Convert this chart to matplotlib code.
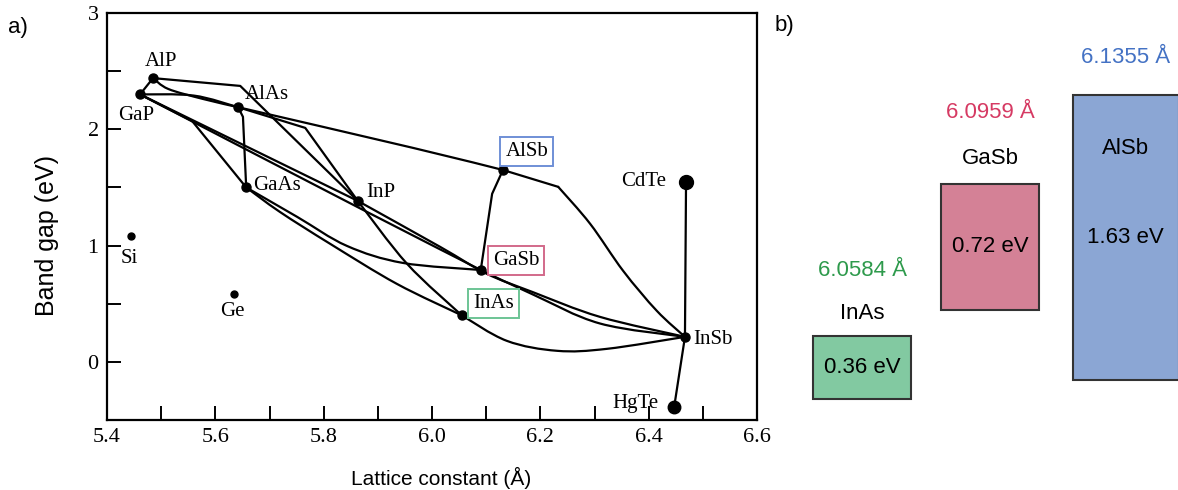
import numpy as np
import matplotlib.pyplot as plt
from matplotlib.patches import Rectangle, PathPatch
from matplotlib.path import Path

# ---- panel a: binary compounds, lattice constant (Å) vs band gap (eV)
names = ['AlP', 'GaP', 'AlAs', 'GaAs', 'InP', 'AlSb', 'GaSb', 'InAs',
         'InSb', 'CdTe', 'HgTe', 'Si', 'Ge']
lattice = [5.485, 5.461, 5.642, 5.657, 5.863, 6.131, 6.090, 6.055,
           6.467, 6.469, 6.447, 5.444, 5.635]
gap = [2.44, 2.30, 2.19, 1.50, 1.38, 1.65, 0.79, 0.40,
       0.215, 1.55, -0.39, 1.08, 0.58]

# ternary alloy lines, (a, Eg) points along each one
# straight pieces (kinks at the direct/indirect crossover)
alp_gap = [(5.485, 2.44), (5.461, 2.30)]
alp_inp = [(5.485, 2.44), (5.646, 2.373), (5.863, 1.384)]
alas_kink = [(5.642, 2.19), (5.766, 2.012), (5.863, 1.384)]
alsb_kink = [(6.131, 1.65), (6.233, 1.505)]
alas_gaas = [(5.642, 2.19), (5.651, 2.107), (5.657, 1.50)]
gap_gaas = [(5.461, 2.30), (5.557, 2.072), (5.657, 1.50)]
gap_inp = [(5.461, 2.30), (5.863, 1.384)]
alsb_gasb = [(6.131, 1.65), (6.111, 1.445), (6.090, 0.79)]
cdte_hgte = [(6.469, 1.55), (6.467, 0.215), (6.447, -0.39)]
# bowed pieces
alp_alas = [(5.485, 2.44), (5.513, 2.347), (5.577, 2.261), (5.642, 2.19)]
gap_alas = [(5.461, 2.30), (5.560, 2.29), (5.642, 2.19)]
inp_inas = [(5.863, 1.384), (5.954, 0.843), (6.055, 0.40)]
alas_alsb = [(5.642, 2.19), (5.965, 1.84), (6.131, 1.65)]
kink_insb = [(6.233, 1.505), (6.292, 1.187), (6.353, 0.782), (6.415, 0.439), (6.467, 0.215)]
gap_gasb = [(5.461, 2.30), (5.863, 1.33), (6.090, 0.79)]
inp_insb = [(5.863, 1.384), (6.015, 0.989), (6.100, 0.76), (6.186, 0.60),
            (6.310, 0.387), (6.467, 0.215)]
gasb_insb = [(6.090, 0.79), (6.186, 0.58), (6.310, 0.33), (6.467, 0.215)]
gaas_gasb = [(5.657, 1.50), (5.751, 1.247), (5.843, 0.997), (5.946, 0.851), (6.090, 0.79)]
gaas_inas = [(5.657, 1.50), (5.719, 1.29), (5.812, 1.015), (5.935, 0.671), (6.055, 0.40)]
inas_insb = [(6.055, 0.40), (6.138, 0.181), (6.231, 0.095), (6.323, 0.112), (6.467, 0.215)]

straight = [alp_gap, alp_inp, alas_kink, alsb_kink, alas_gaas, gap_gaas,
            gap_inp, alsb_gasb, cdte_hgte]
bowed = [alp_alas, gap_alas, inp_inas, alas_alsb, kink_insb, gap_gasb,
         inp_insb, gasb_insb, gaas_gasb, gaas_inas, inas_insb]

# ---- panel b: the 6.1 Å family
film_names = ['InAs', 'GaSb', 'AlSb']
film_a = [6.0584, 6.0959, 6.1355]
film_gap = [0.36, 0.72, 1.63]
film_vb = [0.0, 0.51, 0.11]

# label placement (a, Eg) for panel a
label_xy = {'AlP': (5.500, 2.58), 'GaP': (5.454, 2.115), 'AlAs': (5.695, 2.30),
            'GaAs': (5.714, 1.513), 'InP': (5.906, 1.46), 'AlSb': (6.175, 1.81),
            'GaSb': (6.155, 0.87), 'InAs': (6.113, 0.50), 'InSb': (6.519, 0.19),
            'CdTe': (6.391, 1.55), 'HgTe': (6.376, -0.36), 'Si': (5.442, 0.886),
            'Ge': (5.631, 0.43)}
box_col = {'AlSb': '#6f8fd6', 'GaSb': '#d2698a', 'InAs': '#6cc495'}
dot_size = {'CdTe': 10, 'HgTe': 9, 'Si': 5, 'Ge': 5}


def smooth_path(pts):
    # Catmull-Rom through the points, as cubic Bezier pieces
    p = np.array(pts, dtype=float)
    ext = np.vstack([p[0], p, p[-1]])
    verts = [p[0]]
    codes = [Path.MOVETO]
    for i in range(1, len(ext) - 2):
        c1 = ext[i] + (ext[i + 1] - ext[i - 1]) / 6
        c2 = ext[i + 1] - (ext[i + 2] - ext[i]) / 6
        verts += [c1, c2, ext[i + 1]]
        codes += [Path.CURVE4] * 3
    return Path(verts, codes)


fig = plt.figure(figsize=(11.78, 4.90), dpi=100)
ax = fig.add_axes([107/1178, 70/490, 650/1178, 407/490])

for c in straight:
    xs, ys = zip(*c)
    ax.plot(xs, ys, color='black', lw=1.6, solid_joinstyle='round',
            solid_capstyle='round')
for c in bowed:
    ax.add_patch(PathPatch(smooth_path(c), fill=False, ec='black', lw=1.6,
                           capstyle='round', joinstyle='round'))

for n, a, e in zip(names, lattice, gap):
    ax.plot(a, e, 'o', color='black', ms=dot_size.get(n, 6.5), zorder=3)
    lx, ly = label_xy[n]
    bbox = None
    if n in box_col:
        bbox = dict(boxstyle='square,pad=0.25', fc='white', ec=box_col[n], lw=1.4)
    ax.text(lx, ly, n, family='Liberation Serif', fontsize=15,
            ha='center', va='center', bbox=bbox, zorder=4)

ax.set_xlim(5.4, 6.6)
ax.set_ylim(-0.5, 3.0)
ax.set_xticks(np.round(np.arange(5.4, 6.61, 0.2), 1))
ax.set_xticks(np.round(np.arange(5.5, 6.6, 0.2), 1), minor=True)
ax.set_xticklabels(['%.1f' % v for v in np.arange(5.4, 6.61, 0.2)])
ax.set_yticks([0, 1, 2, 3])
ax.set_yticks([-0.5, 0.5, 1.5, 2.5], minor=True)
ax.set_yticklabels(['0', '1', '2', '3'])
ax.tick_params(which='both', direction='in', length=10, width=1.4,
               top=False, right=False, labelsize=16, pad=6)
for lab in ax.get_xticklabels() + ax.get_yticklabels():
    lab.set_family('Liberation Serif')
for sp in ax.spines.values():
    sp.set_linewidth(1.6)

fig.text(441/1178, 1 - 478/490, 'Lattice constant (Å)', family='Liberation Sans',
         fontsize=15, ha='center', va='center')
fig.text(47/1178, 1 - 236/490, 'Band gap (eV)', family='Liberation Sans',
         fontsize=18, ha='center', va='center', rotation=90)
fig.text(18/1178, 1 - 28/490, 'a)', family='Liberation Sans', fontsize=16,
         ha='center', va='center')
fig.text(784/1178, 1 - 26/490, 'b)', family='Liberation Sans', fontsize=16,
         ha='center', va='center')

# ---- panel b
bx = fig.add_axes([780/1178, 0, 398/1178, 1])
bx.set_xlim(6.0344, 6.1508)
bx.set_ylim(-0.52, 2.28)
bx.axis('off')

fills = ['#82c9a1', '#d48196', '#8ba6d4']
txt_cols = ['#2e9a4c', '#d63a63', '#4472c4']
widths = [0.0287, 0.0287, 0.031]
name_y = [0.486, 1.377, 1.434]
const_y = [0.737, 1.64, 1.954]

for n, a, g, vb, fc, tc, w, ny, cy in zip(film_names, film_a, film_gap, film_vb,
                                          fills, txt_cols, widths, name_y, const_y):
    bx.add_patch(Rectangle((a - w/2, vb), w, g, fc=fc, ec='#333333', lw=1.5))
    bx.text(a, vb + g/2, '%.2f eV' % g, family='Liberation Sans', fontsize=16,
            ha='center', va='center')
    bx.text(a, ny, n, family='Liberation Sans', fontsize=16, ha='center', va='center')
    bx.text(a, cy, '%.4f Å' % a, family='Liberation Sans', fontsize=16,
            ha='center', va='center', color=tc)

fig.savefig('out.png', dpi=100)
